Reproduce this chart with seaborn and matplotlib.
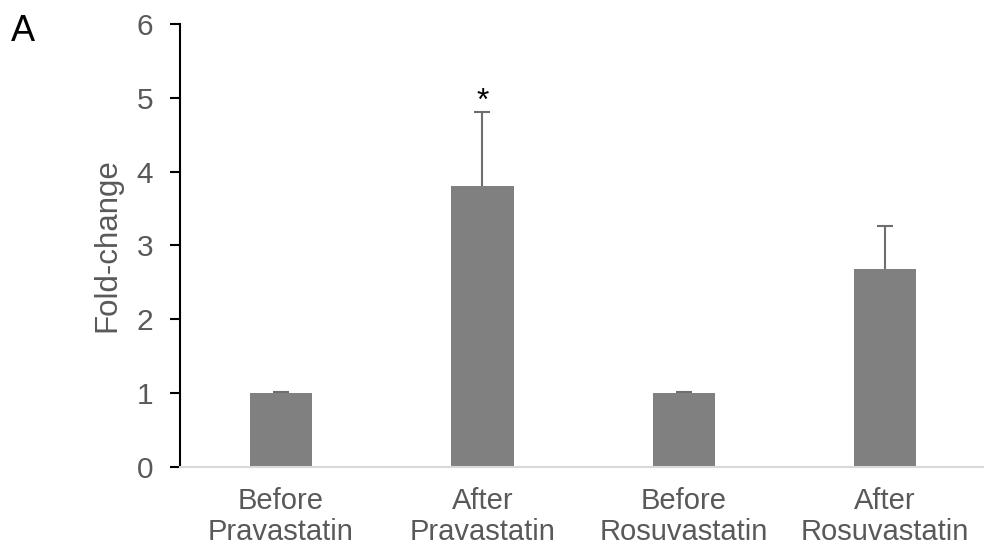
import matplotlib
matplotlib.use("Agg")
import matplotlib.pyplot as plt
import seaborn as sns
import pandas as pd

categories = ["Before\nPravastatin", "After\nPravastatin", "Before\nRosuvastatin", "After\nRosuvastatin"]
fold_change = [1.0, 3.8, 1.0, 2.68]
sem = [0.01, 1.01, 0.01, 0.58]
significant = [False, True, False, False]

sns.set_style("white")
plt.rcParams["font.family"] = ["Liberation Sans", "DejaVu Sans"]

df = pd.DataFrame({"group": categories, "value": fold_change})

fig = plt.figure(figsize=(9.84, 5.56), dpi=100)
ax = fig.add_axes([0.183, 0.160, 0.819, 0.797])

text_color = "#595959"
bar_color = "#808080"

# error bars sit behind the bars so only the upper half shows
xs = list(range(len(categories)))
ax.errorbar(xs, fold_change, yerr=sem, fmt="none",
            ecolor="#6e6e6e", elinewidth=1.5, capsize=6, capthick=1.5, zorder=1)

sns.barplot(data=df, x="group", y="value", color=bar_color, width=0.31,
            saturation=1, errorbar=None, ax=ax, edgecolor="none", zorder=2)

for x, v, e, s in zip(xs, fold_change, sem, significant):
    if s:
        ax.text(x, v + e - 0.07, "*", ha="center", va="bottom",
                fontsize=23, color="black")

ax.set_ylim(0, 6)
ax.set_xlim(-0.5, len(categories) - 0.5)
ax.set_yticks(range(0, 7))
ax.set_xlabel("")
ax.set_ylabel("Fold-change", fontsize=22.5, color=text_color, labelpad=10)

ax.tick_params(axis="y", which="both", left=True, length=7.5, width=1.5,
               color="black", labelsize=21.5, labelcolor=text_color, pad=12)
ax.tick_params(axis="x", bottom=False, labelsize=21, labelcolor=text_color, pad=11)
for lbl in ax.get_xticklabels():
    lbl.set_linespacing(1.15)

for side in ["top", "right"]:
    ax.spines[side].set_visible(False)
ax.spines["left"].set_color("black")
ax.spines["left"].set_linewidth(1.5)
ax.spines["bottom"].set_color("#d9d9d9")
ax.spines["bottom"].set_linewidth(1.5)

fig.text(0.011, 0.975, "A", fontsize=26, color="black", ha="left", va="top")

fig.savefig("out.png", dpi=100)
